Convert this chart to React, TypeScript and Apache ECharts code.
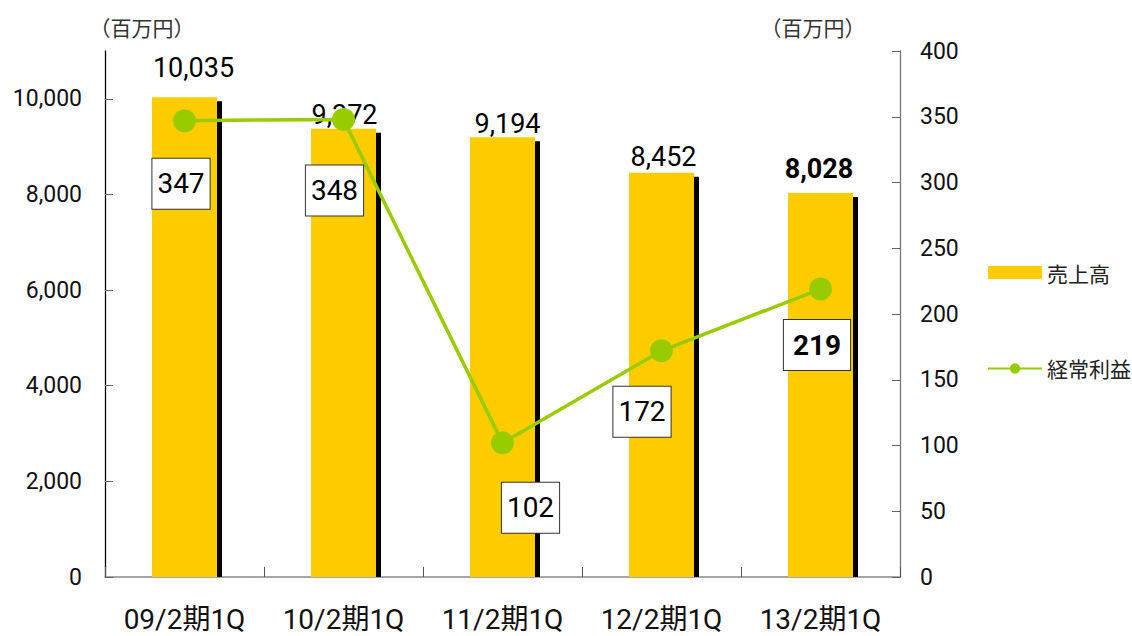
import React, { useEffect, useRef } from "react";
import * as echarts from "echarts";

const categories = ["09/2期1Q", "10/2期1Q", "11/2期1Q", "12/2期1Q", "13/2期1Q"];
const sales = [10035, 9372, 9194, 8452, 8028];
const ordinaryProfit = [347, 348, 102, 172, 219];
const leftTicks = [0, 2000, 4000, 6000, 8000, 10000];
const unitLabel = "（百万円）";
const salesName = "売上高";
const profitName = "経常利益";

const barLabelDx = [9, 1, 5, 2, -1.5];
const barLabelDist = [16, 0, 0, 2, 11];
const barLabelBold = [false, false, false, false, true];
const lineLabelOffset = [
  [-3.5, 63],
  [-9, 71],
  [28, 65],
  [-19.5, 61],
  [-3.5, 56],
];
const lineLabelBold = [false, false, false, false, true];

const FONT = 'Roboto, "Noto Sans CJK JP", sans-serif';
const CJK = '"Noto Sans CJK JP", sans-serif';

export default function App() {
  const ref = useRef<HTMLDivElement>(null);
  useEffect(() => {
    if (!ref.current) return;
    const chart = echarts.init(ref.current, undefined, { renderer: "svg" });
    const fmt = (v: number) => v.toLocaleString("en-US");
    chart.setOption({
      animation: false,
      backgroundColor: "#ffffff",
      textStyle: { fontFamily: FONT },
      grid: { left: 105, right: 232, top: 51, bottom: 59, containLabel: false },
      legend: {
        orient: "vertical",
        left: 982,
        top: 257,
        itemWidth: 54,
        itemHeight: 13,
        itemGap: 75,
        textStyle: { fontFamily: CJK, fontSize: 21, color: "#222" },
        data: [{ name: salesName, icon: "rect" }, { name: profitName }],
      },
      graphic: [
        {
          type: "text",
          x: 142,
          y: 27,
          style: {
            text: unitLabel,
            font: `21px ${CJK}`,
            fill: "#333",
            align: "center",
            verticalAlign: "middle",
          },
        },
        {
          type: "text",
          x: 813,
          y: 27,
          style: {
            text: unitLabel,
            font: `21px ${CJK}`,
            fill: "#333",
            align: "center",
            verticalAlign: "middle",
          },
        },
      ],
      xAxis: {
        type: "category",
        data: categories,
        boundaryGap: true,
        axisLine: { lineStyle: { color: "#888", width: 1.5 } },
        axisTick: { show: true, inside: true, length: 10, lineStyle: { color: "#555" } },
        axisLabel: { fontSize: 28, color: "#111", margin: 28, fontFamily: FONT },
        splitLine: { show: false },
      },
      yAxis: [
        {
          type: "value",
          min: 0,
          max: 11000,
          position: "left",
          axisLine: { show: true, lineStyle: { color: "#000", width: 1.3 } },
          axisTick: {
            show: true,
            inside: true,
            length: 8,
            lineStyle: { color: "#666" },
            customValues: leftTicks,
          },
          axisLabel: {
            fontSize: 23,
            color: "#111",
            margin: 23,
            customValues: leftTicks,
            formatter: (v: number) => fmt(v),
          },
          splitLine: { show: false },
        },
        {
          type: "value",
          min: 0,
          max: 400,
          interval: 50,
          position: "right",
          axisLine: { show: true, lineStyle: { color: "#777", width: 1.3 } },
          axisTick: { show: true, inside: true, length: 8, lineStyle: { color: "#666" } },
          axisLabel: { fontSize: 23, color: "#111", margin: 20 },
          splitLine: { show: false },
        },
      ],
      series: [
        {
          name: "shadow",
          type: "custom",
          z: 1,
          silent: true,
          data: sales.map((v, i) => [i, v]),
          encode: { x: 0, y: 1 },
          renderItem: (params: any, api: any) => {
            const idx = api.value(0);
            const v = api.value(1);
            const p = api.coord([idx, v]);
            const b = api.coord([idx, 0]);
            return {
              type: "rect",
              shape: { x: p[0] - 32.5 + 5, y: p[1] + 4, width: 65, height: b[1] - p[1] - 4 },
              style: { fill: "#000" },
            };
          },
        },
        {
          name: salesName,
          type: "bar",
          z: 2,
          barWidth: 65,
          itemStyle: { color: "#FFCC00" },
          data: sales.map((v, i) => ({
            value: v,
            label: {
              show: true,
              position: "top",
              distance: barLabelDist[i],
              offset: [barLabelDx[i], 0],
              fontSize: 27,
              fontWeight: barLabelBold[i] ? "bold" : "normal",
              color: "#000",
              fontFamily: FONT,
              formatter: (p: any) => fmt(p.value),
            },
          })),
        },
        {
          name: profitName,
          type: "line",
          yAxisIndex: 1,
          z: 3,
          color: "#99CC00",
          symbol: "circle",
          symbolSize: 23,
          lineStyle: { color: "#99CC00", width: 3.5 },
          itemStyle: { color: "#99CC00" },
          data: ordinaryProfit.map((v, i) => ({
            value: v,
            label: {
              show: true,
              position: "inside",
              offset: lineLabelOffset[i],
              fontSize: 28,
              lineHeight: 30,
              fontWeight: lineLabelBold[i] ? "bold" : "normal",
              color: "#000",
              fontFamily: FONT,
              backgroundColor: "#fff",
              borderColor: "#333",
              borderWidth: 1,
              padding: lineLabelBold[i] ? [10, 9] : [10, 5],
              align: "center",
              verticalAlign: "middle",
            },
          })),
        },
      ],
    });
    return () => chart.dispose();
  }, []);
  return (
    <div
      ref={ref}
      style={{ position: "fixed", left: 0, top: 0, width: 1132, height: 636, background: "#fff" }}
    />
  );
}
